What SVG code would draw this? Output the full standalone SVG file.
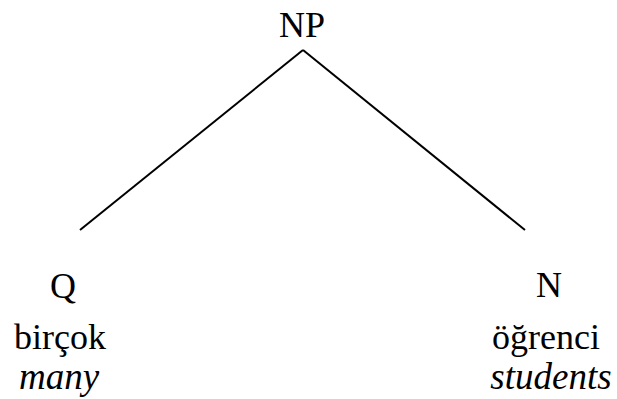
<svg xmlns="http://www.w3.org/2000/svg" width="617" height="399" viewBox="0 0 617 399">
  <style>
    text { font-family: "Liberation Serif", "Times New Roman", serif; font-size: 36px; fill: #000; text-anchor: middle; }
    .gloss { font-style: italic; font-size: 37px; }
    .edge { stroke: #000; stroke-width: 2; fill: none; }
  </style>
  <rect width="617" height="399" fill="#fff"/>
  <g id="connectors">
    <line class="edge" x1="303" y1="50" x2="80" y2="230"/>
    <line class="edge" x1="303" y1="50" x2="525" y2="230"/>
  </g>
  <g id="np">
    <text x="302" y="37">NP</text>
  </g>
  <g id="q">
    <text x="63" y="298">Q</text>
    <text x="60" y="349">birçok</text>
    <text class="gloss" x="59" y="389">many</text>
  </g>
  <g id="n">
    <text x="549" y="297">N</text>
    <text x="546" y="349">öğrenci</text>
    <text class="gloss" x="551" y="389">students</text>
  </g>
</svg>
